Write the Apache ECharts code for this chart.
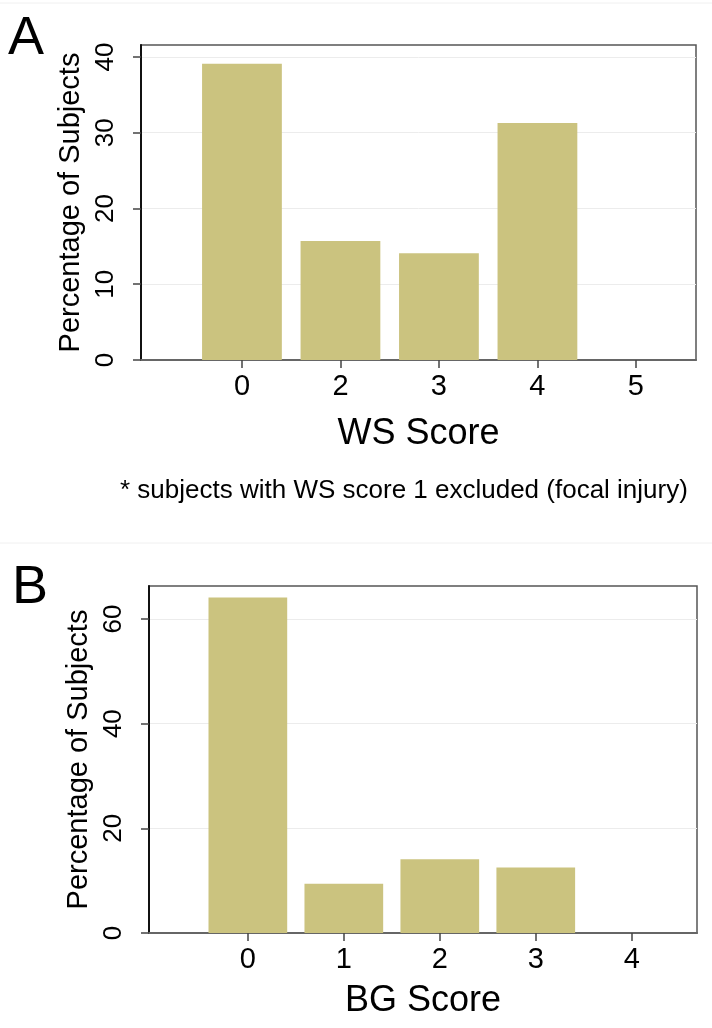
<!DOCTYPE html>
<html>
<head>
<meta charset="utf-8">
<script src="https://cdn.jsdelivr.net/npm/echarts@6/dist/echarts.min.js"></script>
<style>
html,body{margin:0;padding:0;background:#fff;}
#c{width:712px;height:1028px;}
</style>
</head>
<body>
<div id="c"></div>
<script>
// ---- Data ----
const wsCategories = ['0', '2', '3', '4', '5'];
const wsValues = [39.1, 15.7, 14.1, 31.3, 0];
const wsTicks = [0, 10, 20, 30, 40];

const bgCategories = ['0', '1', '2', '3', '4'];
const bgValues = [64.1, 9.4, 14.1, 12.5, 0];
const bgTicks = [0, 20, 40, 60];

const yTitle = 'Percentage of Subjects';
const wsTitle = 'WS Score';
const bgTitle = 'BG Score';
const footnote = '* subjects with WS score 1 excluded (focal injury)';

// ---- Styles ----
const FONT = 'Liberation Sans, Arial, Helvetica, sans-serif';
const BAR = '#cbc37f';
const idx = [0, 1, 2, 3, 4];

function xAxisFor(cats, min, max, gridIndex, name, gap) {
  return {
    type: 'value', gridIndex, min, max,
    name, nameLocation: 'middle', nameGap: gap,
    nameTextStyle: { fontFamily: FONT, fontSize: 36, color: '#000' },
    axisLine: { show: true, onZero: false, lineStyle: { color: '#666', width: 2 } },
    axisTick: { show: true, customValues: idx, length: 8, lineStyle: { color: '#444', width: 1.5 } },
    axisLabel: { customValues: idx, formatter: v => cats[Math.round(v)], fontFamily: FONT, fontSize: 29, color: '#000', margin: 12 },
    splitLine: { show: false }
  };
}
function yAxisFor(ticks, max, interval, gridIndex) {
  return {
    type: 'value', gridIndex, min: 0, max, interval,
    name: yTitle, nameLocation: 'middle', nameGap: 56, nameRotate: 90,
    nameTextStyle: { fontFamily: FONT, fontSize: 29, color: '#000' },
    axisLine: { show: true, onZero: false, lineStyle: { color: '#111', width: 2 } },
    axisTick: { show: true, customValues: ticks, length: 8, lineStyle: { color: '#444', width: 1.5 } },
    axisLabel: { customValues: ticks, rotate: 90, fontFamily: FONT, fontSize: 26, color: '#000', margin: 22 },
    splitLine: { show: true, lineStyle: { color: '#ececec', width: 1 } }
  };
}

const chart = echarts.init(document.getElementById('c'), null, { renderer: 'canvas' });
chart.setOption({
  backgroundColor: '#fff',
  animation: false,
  grid: [
    { left: 141, top: 45, width: 555, height: 315, show: true, borderColor: '#555', borderWidth: 1.5, containLabel: false },
    { left: 149, top: 586, width: 548, height: 347, show: true, borderColor: '#555', borderWidth: 1.5, containLabel: false }
  ],
  xAxis: [
    xAxisFor(wsCategories, -1.025, 4.61, 0, wsTitle, 56),
    xAxisFor(bgCategories, -1.03, 4.68, 1, bgTitle, 50)
  ],
  yAxis: [
    yAxisFor(wsTicks, 41.58, 10, 0),
    yAxisFor(bgTicks, 66.3, 20, 1)
  ],
  series: [
    { type: 'bar', xAxisIndex: 0, yAxisIndex: 0, barWidth: '81%', itemStyle: { color: BAR },
      data: wsValues.map((v, i) => [i, v]) },
    { type: 'bar', xAxisIndex: 1, yAxisIndex: 1, barWidth: '82%', itemStyle: { color: BAR },
      data: bgValues.map((v, i) => [i, v]) }
  ],
  graphic: [
    { type: 'line', shape: { x1: 0, y1: 3, x2: 712, y2: 3 }, style: { stroke: '#f0f0f0', lineWidth: 1 } },
    { type: 'line', shape: { x1: 0, y1: 543, x2: 712, y2: 543 }, style: { stroke: '#f0f0f0', lineWidth: 1 } },
    { type: 'text', left: 8, top: 12, style: { text: 'A', fontFamily: FONT, fontSize: 54, fill: '#000' } },
    { type: 'text', left: 12, top: 561, style: { text: 'B', fontFamily: FONT, fontSize: 54, fill: '#000' } },
    { type: 'text', left: 120, top: 478, style: { text: footnote, fontFamily: FONT, fontSize: 26, fill: '#000' } }
  ]
});
</script>
</body>
</html>
